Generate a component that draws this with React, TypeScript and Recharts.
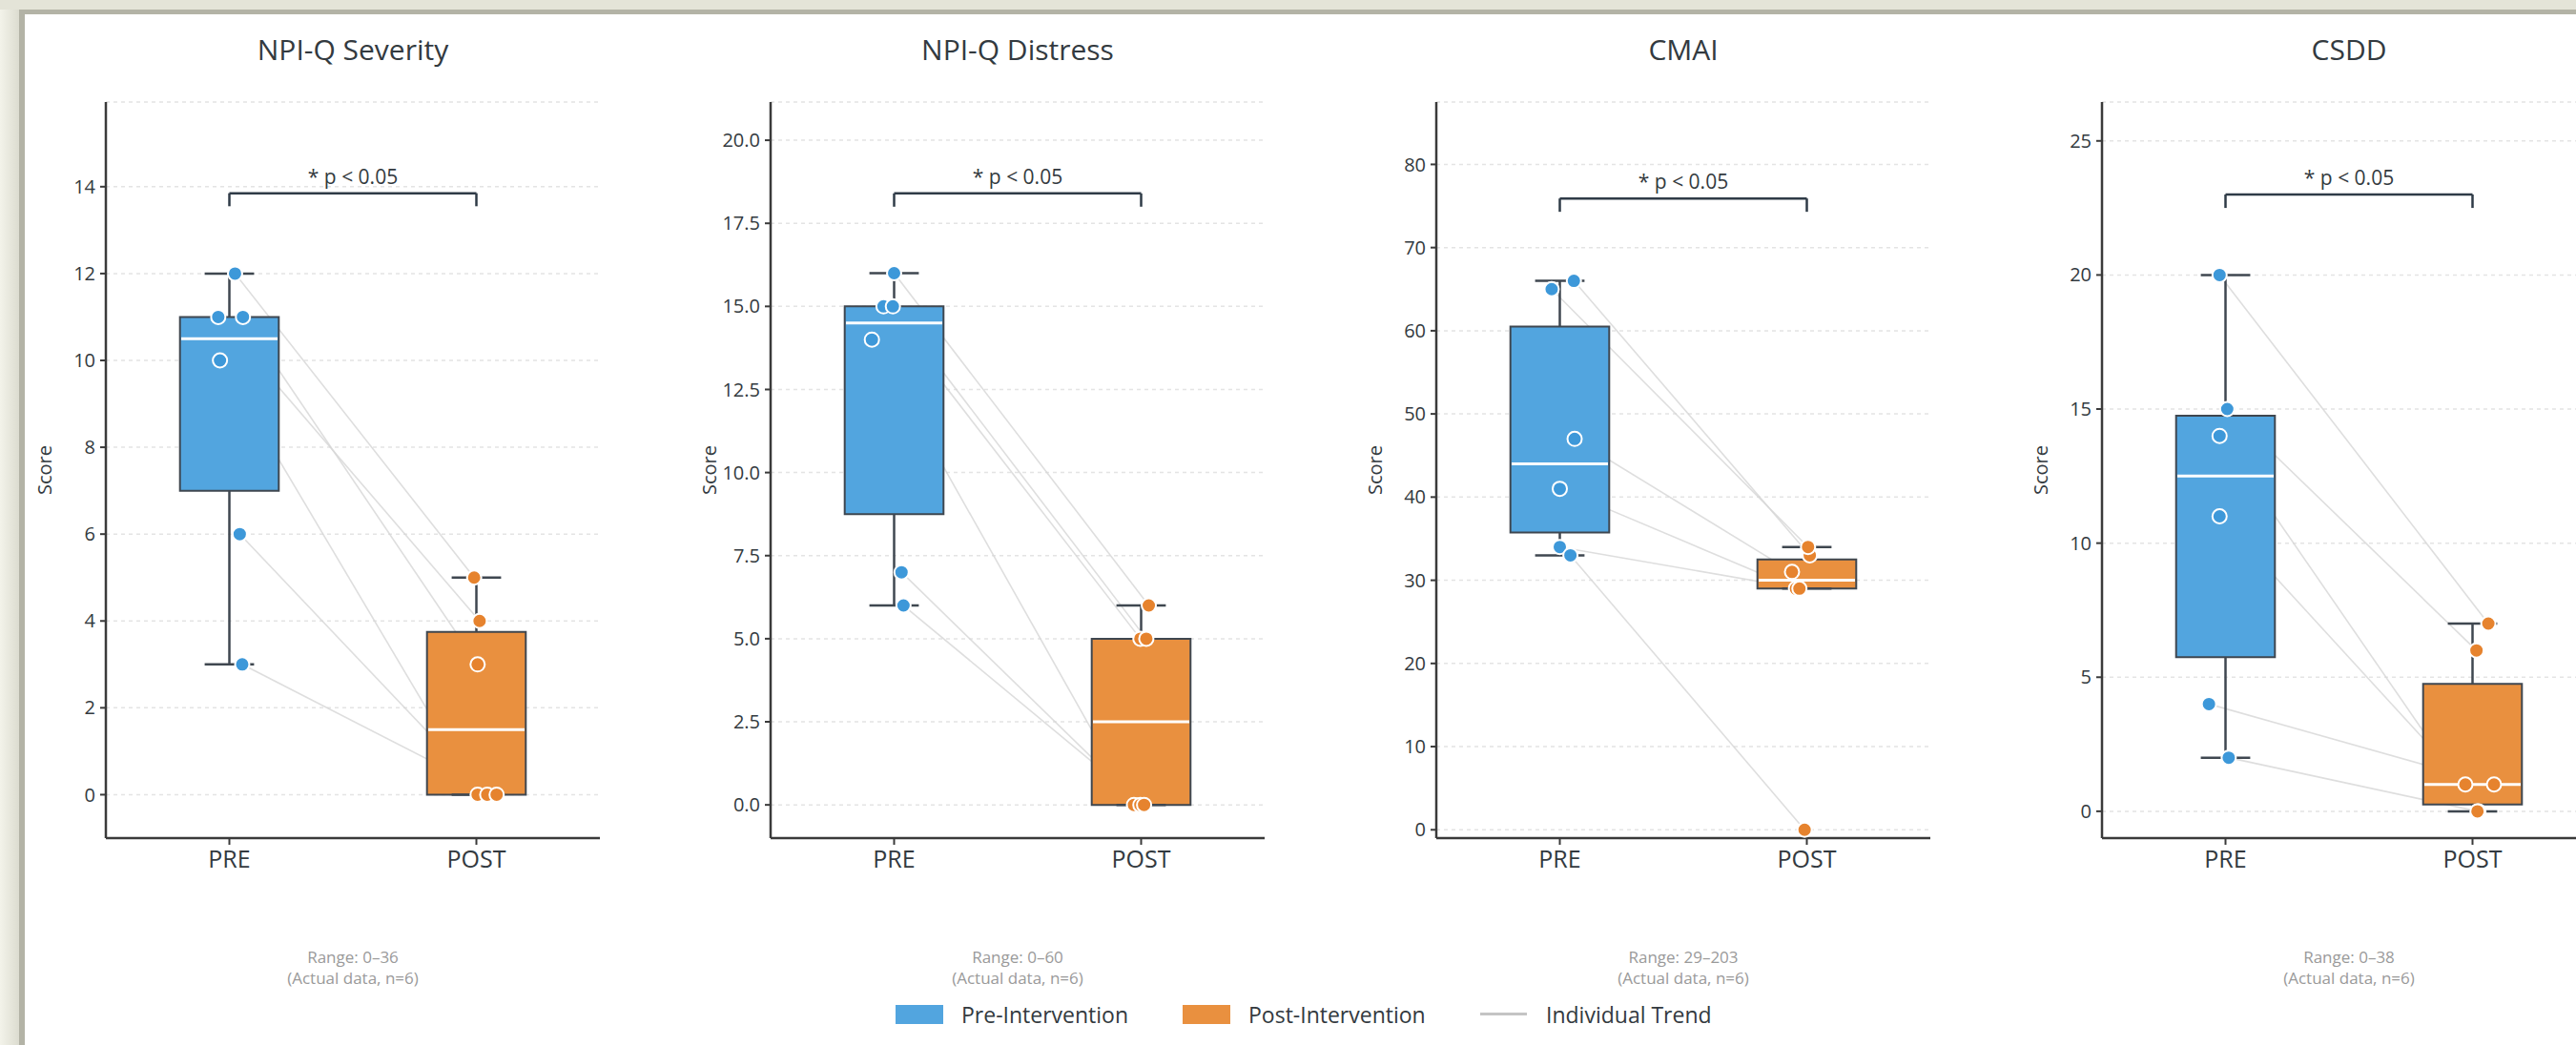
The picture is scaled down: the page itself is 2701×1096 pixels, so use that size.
import React from 'react'
import {
  CartesianGrid,
  ComposedChart,
  ReferenceArea,
  ReferenceLine,
  Scatter,
  XAxis,
  YAxis,
} from 'recharts'

const FONT = '"Open Sans", "Noto Sans", sans-serif'
const BLUE_BOX = '#52a5df'
const BLUE_DOT = '#3d98d9'
const ORANGE_BOX = '#e9903f'
const ORANGE_DOT = '#e6832e'
const EDGE = '#3f4750'
const TEXT = '#333a40'

const PHASES = ['PRE', 'POST']
const TITLES = ['NPI-Q Severity', 'NPI-Q Distress', 'CMAI', 'CSDD']
const RANGE_NOTES = ['Range: 0–36', 'Range: 0–60', 'Range: 29–203', 'Range: 0–38']

// raw scores, one entry per participant (same order pre/post)
const severityPre = [12, 11, 11, 10, 6, 3]
const severityPost = [5, 4, 3, 0, 0, 0]
const distressPre = [16, 15, 15, 14, 7, 6]
const distressPost = [6, 5, 5, 0, 0, 0]
const cmaiPre = [66, 65, 47, 41, 34, 33]
const cmaiPost = [33, 34, 31, 29, 29, 0]
const csddPre = [20, 15, 14, 11, 4, 2]
const csddPost = [7, 6, 0, 1, 1, 0]

// horizontal jitter of the dots (category units)
const severityJitterPre = [0.023, -0.045, 0.055, -0.038, 0.042, 0.052]
const severityJitterPost = [-0.009, 0.013, 0.005, 0.005, 0.044, 0.082]
const distressJitterPre = [0, -0.043, -0.005, -0.09, 0.03, 0.038]
const distressJitterPost = [0.031, -0.003, 0.021, -0.029, -0.003, 0.012]
const cmaiJitterPre = [0.057, -0.033, 0.06, 0, 0, 0.043]
const cmaiJitterPost = [0.012, 0.005, -0.06, -0.044, -0.03, -0.009]
const csddJitterPre = [-0.024, 0.007, -0.024, -0.024, -0.067, 0.013]
const csddJitterPost = [0.064, 0.016, 0.024, -0.029, 0.087, 0.02]

const severityTicks = [0, 2, 4, 6, 8, 10, 12, 14]
const distressTicks = [0, 2.5, 5, 7.5, 10, 12.5, 15, 17.5, 20]
const cmaiTicks = [0, 10, 20, 30, 40, 50, 60, 70, 80]
const csddTicks = [0, 5, 10, 15, 20, 25]

const yTops = [15.95, 21.15, 87.5, 26.45]
const bracketLevels = [13.85, 18.4, 75.9, 23.0]
const bracketDrops = [0.3, 0.4, 1.6, 0.5]

const panels = [
  { pre: severityPre, post: severityPost, jPre: severityJitterPre, jPost: severityJitterPost, ticks: severityTicks, fmt: (v: number) => `${v}` },
  { pre: distressPre, post: distressPost, jPre: distressJitterPre, jPost: distressJitterPost, ticks: distressTicks, fmt: (v: number) => v.toFixed(1) },
  { pre: cmaiPre, post: cmaiPost, jPre: cmaiJitterPre, jPost: cmaiJitterPost, ticks: cmaiTicks, fmt: (v: number) => `${v}` },
  { pre: csddPre, post: csddPost, jPre: csddJitterPre, jPost: csddJitterPost, ticks: csddTicks, fmt: (v: number) => `${v}` },
]

// left edge of each plot's y axis, in page px
const AXIS_X = [111, 808, 1506, 2204]
const PLOT_TOP = 107
const PLOT_BOTTOM = 879
const PLOT_W = 518
const CHART_LEFT_PAD = 90

function quantile(sorted: number[], q: number) {
  const pos = (sorted.length - 1) * q
  const lo = Math.floor(pos)
  const hi = Math.ceil(pos)
  return sorted[lo] + (sorted[hi] - sorted[lo]) * (pos - lo)
}

function boxStats(values: number[]) {
  const s = [...values].sort((a, b) => a - b)
  const q1 = quantile(s, 0.25)
  const med = quantile(s, 0.5)
  const q3 = quantile(s, 0.75)
  const iqr = q3 - q1
  const inside = s.filter((v) => v >= q1 - 1.5 * iqr && v <= q3 + 1.5 * iqr)
  return { q1, med, q3, lo: inside[0], hi: inside[inside.length - 1] }
}

const dotShape = (fill: string) => (props: any) => (
  <circle cx={props.cx} cy={props.cy} r={7.5} fill={fill} stroke="#ffffff" strokeWidth={2} />
)

function BoxGroup({ x, values, fill }: { x: number; values: number[]; fill: string }) {
  const b = boxStats(values)
  return (
    <>
      <ReferenceLine segment={[{ x, y: b.q3 }, { x, y: b.hi }]} stroke={EDGE} strokeWidth={2.5} />
      <ReferenceLine segment={[{ x, y: b.q1 }, { x, y: b.lo }]} stroke={EDGE} strokeWidth={2.5} />
      <ReferenceLine segment={[{ x: x - 0.1, y: b.hi }, { x: x + 0.1, y: b.hi }]} stroke={EDGE} strokeWidth={2.5} />
      <ReferenceLine segment={[{ x: x - 0.1, y: b.lo }, { x: x + 0.1, y: b.lo }]} stroke={EDGE} strokeWidth={2.5} />
      <ReferenceArea x1={x - 0.2} x2={x + 0.2} y1={b.q1} y2={b.q3} fill={fill} fillOpacity={1} stroke={EDGE} strokeWidth={2} />
      <ReferenceLine segment={[{ x: x - 0.195, y: b.med }, { x: x + 0.195, y: b.med }]} stroke="#ffffff" strokeWidth={3} />
    </>
  )
}

function Panel({ i }: { i: number }) {
  const p = panels[i]
  const preDots = p.pre.map((y, k) => ({ x: 0 + p.jPre[k], y }))
  const postDots = p.post.map((y, k) => ({ x: 1 + p.jPost[k], y }))
  const level = bracketLevels[i]
  const drop = bracketDrops[i]
  return (
    <div style={{ position: 'absolute', left: AXIS_X[i] - CHART_LEFT_PAD, top: 0 }}>
      <ComposedChart
        width={CHART_LEFT_PAD + PLOT_W + 90}
        height={1096}
        margin={{ top: PLOT_TOP, right: 90, bottom: 1096 - PLOT_BOTTOM - 60, left: 30 }}
      >
        <CartesianGrid vertical={false} stroke="#e4e4e4" strokeWidth={1.5} strokeDasharray="4 4" />
        <XAxis
          type="number"
          dataKey="x"
          domain={[-0.5, 1.5]}
          ticks={[0, 1]}
          allowDataOverflow
          tickFormatter={(v: number) => PHASES[v]}
          height={60}
          tickSize={7}
          tickMargin={6}
          axisLine={{ stroke: '#3a3a3a', strokeWidth: 2.5 }}
          tickLine={{ stroke: '#3a3a3a', strokeWidth: 2 }}
          tick={{ fontSize: 25, fill: TEXT, fontFamily: FONT }}
        />
        <YAxis
          type="number"
          dataKey="y"
          domain={[-1, yTops[i]]}
          ticks={p.ticks}
          allowDataOverflow
          tickFormatter={p.fmt}
          width={60}
          tickSize={6}
          tickMargin={5}
          axisLine={{ stroke: '#3a3a3a', strokeWidth: 2.5 }}
          tickLine={{ stroke: '#3a3a3a', strokeWidth: 2 }}
          tick={{ fontSize: 20, fill: TEXT, fontFamily: FONT }}
        />
        {p.pre.map((y, k) => (
          <ReferenceLine
            key={`t${k}`}
            segment={[preDots[k], postDots[k]]}
            stroke="#d6d6d6"
            strokeWidth={1.6}
            strokeOpacity={0.8}
            zIndex={50}
          />
        ))}
        <BoxGroup x={0} values={p.pre} fill={BLUE_BOX} />
        <BoxGroup x={1} values={p.post} fill={ORANGE_BOX} />
        <Scatter data={preDots} isAnimationActive={false} shape={dotShape(BLUE_DOT)} />
        <Scatter data={postDots} isAnimationActive={false} shape={dotShape(ORANGE_DOT)} />
        <ReferenceLine segment={[{ x: 0, y: level - drop }, { x: 0, y: level }]} stroke="#2f3b47" strokeWidth={2.5} />
        <ReferenceLine segment={[{ x: 1, y: level - drop }, { x: 1, y: level }]} stroke="#2f3b47" strokeWidth={2.5} />
        <ReferenceLine
          segment={[{ x: 0, y: level }, { x: 1, y: level }]}
          stroke="#2f3b47"
          strokeWidth={2.5}
          label={{ value: '* p < 0.05', position: 'top', offset: 10, fill: TEXT, fontSize: 21, fontFamily: FONT }}
        />
      </ComposedChart>
    </div>
  )
}

function Overlay({ i }: { i: number }) {
  const cx = AXIS_X[i] + PLOT_W / 2
  return (
    <>
      <div
        style={{
          position: 'absolute', left: AXIS_X[i], top: 35, width: PLOT_W, textAlign: 'center',
          fontSize: 30, lineHeight: '34px', color: TEXT, fontFamily: FONT,
        }}
      >
        {TITLES[i]}
      </div>
      <div style={{ position: 'absolute', left: AXIS_X[i] - 64, top: (PLOT_TOP + PLOT_BOTTOM) / 2, width: 0, height: 0 }}>
        <div
          style={{
            position: 'absolute', transform: 'translate(-50%, -50%) rotate(-90deg)', whiteSpace: 'nowrap',
            fontSize: 20, color: TEXT, fontFamily: FONT, lineHeight: '24px',
          }}
        >
          Score
        </div>
      </div>
      <div
        style={{
          position: 'absolute', left: cx - 150, top: 993, width: 300, textAlign: 'center',
          fontSize: 17, lineHeight: '21.7px', color: '#9a9a9a', fontFamily: FONT,
        }}
      >
        {RANGE_NOTES[i]}
        <br />
        (Actual data, n=6)
      </div>
    </>
  )
}

function Legend() {
  const label = { position: 'absolute' as const, top: 1047, fontSize: 23, lineHeight: '34px', color: TEXT, fontFamily: FONT, whiteSpace: 'nowrap' as const }
  return (
    <>
      <div style={{ position: 'absolute', left: 939, top: 1054, width: 50, height: 20, background: BLUE_BOX }} />
      <div style={{ ...label, left: 1008 }}>Pre-Intervention</div>
      <div style={{ position: 'absolute', left: 1240, top: 1054, width: 50, height: 20, background: ORANGE_BOX }} />
      <div style={{ ...label, left: 1309 }}>Post-Intervention</div>
      <div style={{ position: 'absolute', left: 1552, top: 1062, width: 49, height: 3, background: '#c4c4c4' }} />
      <div style={{ ...label, left: 1621 }}>Individual Trend</div>
    </>
  )
}

export default function App() {
  return (
    <div style={{ position: 'fixed', left: 0, top: 0, width: 2701, height: 1096, overflow: 'hidden', background: '#ecece2' }}>
      <div style={{ position: 'absolute', left: 0, top: 0, width: 20, height: 1096, background: 'linear-gradient(to right, #f3f3ea, #dcdcd0)' }} />
      <div style={{ position: 'absolute', left: 0, top: 0, width: 2701, height: 10, background: '#e4e4d8' }} />
      <div style={{ position: 'absolute', left: 20, top: 10, width: 2681, height: 1086, background: '#b3b3a6' }} />
      <div style={{ position: 'absolute', left: 26, top: 15, width: 2675, height: 1081, background: '#ffffff' }} />
      {panels.map((_, i) => (
        <Panel key={i} i={i} />
      ))}
      {panels.map((_, i) => (
        <Overlay key={`o${i}`} i={i} />
      ))}
      <Legend />
    </div>
  )
}
